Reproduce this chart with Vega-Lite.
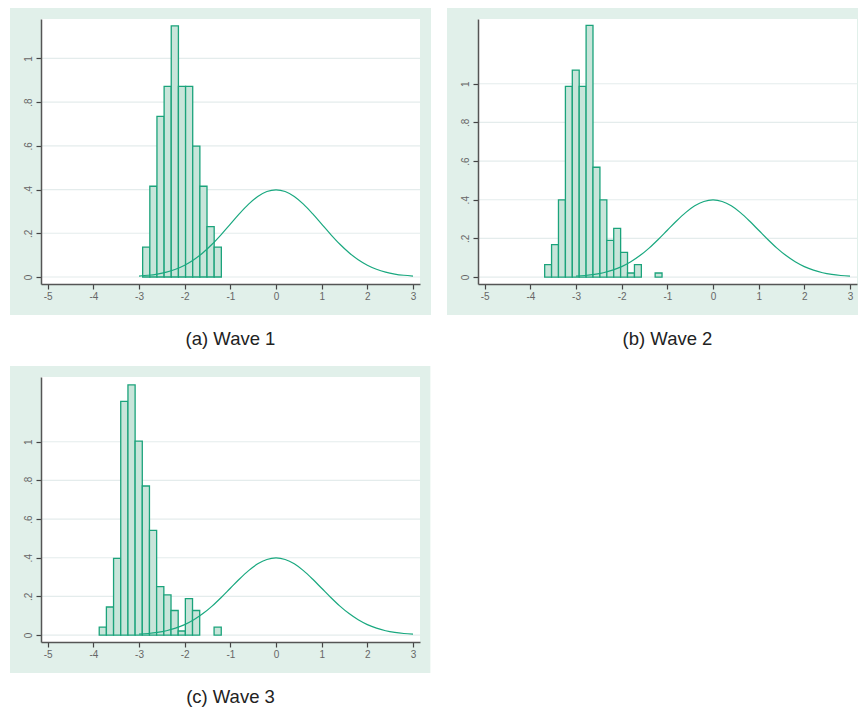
{
  "$schema": "https://vega.github.io/schema/vega-lite/v6.json",
  "padding": {"left": 9, "top": 8, "right": 0, "bottom": 0},
  "background": "white",
  "datasets": {
    "one": [{}],
    "grid": [{"g": 0}, {"g": 0.2}, {"g": 0.4}, {"g": 0.6}, {"g": 0.8}, {"g": 1}],
    "curve": [
      {"x": -3.0, "pdf": 0.00443}, {"x": -2.8, "pdf": 0.00792}, {"x": -2.6, "pdf": 0.01358}, {"x": -2.4, "pdf": 0.02239},
      {"x": -2.2, "pdf": 0.03547}, {"x": -2.0, "pdf": 0.05399}, {"x": -1.8, "pdf": 0.07895}, {"x": -1.6, "pdf": 0.11092},
      {"x": -1.4, "pdf": 0.14973}, {"x": -1.2, "pdf": 0.19419}, {"x": -1.0, "pdf": 0.24197}, {"x": -0.8, "pdf": 0.28969},
      {"x": -0.6, "pdf": 0.33322}, {"x": -0.4, "pdf": 0.36827}, {"x": -0.2, "pdf": 0.39104}, {"x": 0.0, "pdf": 0.39894},
      {"x": 0.2, "pdf": 0.39104}, {"x": 0.4, "pdf": 0.36827}, {"x": 0.6, "pdf": 0.33322}, {"x": 0.8, "pdf": 0.28969},
      {"x": 1.0, "pdf": 0.24197}, {"x": 1.2, "pdf": 0.19419}, {"x": 1.4, "pdf": 0.14973}, {"x": 1.6, "pdf": 0.11092},
      {"x": 1.8, "pdf": 0.07895}, {"x": 2.0, "pdf": 0.05399}, {"x": 2.2, "pdf": 0.03547}, {"x": 2.4, "pdf": 0.02239},
      {"x": 2.6, "pdf": 0.01358}, {"x": 2.8, "pdf": 0.00792}, {"x": 3.0, "pdf": 0.00443}
    ],
    "wave1": [
      {"x0": -2.920, "x1": -2.763, "density": 0.137},
      {"x0": -2.763, "x1": -2.607, "density": 0.415},
      {"x0": -2.607, "x1": -2.450, "density": 0.735},
      {"x0": -2.450, "x1": -2.294, "density": 0.872},
      {"x0": -2.294, "x1": -2.137, "density": 1.149},
      {"x0": -2.137, "x1": -1.980, "density": 0.872},
      {"x0": -1.980, "x1": -1.824, "density": 0.872},
      {"x0": -1.824, "x1": -1.667, "density": 0.599},
      {"x0": -1.667, "x1": -1.511, "density": 0.415},
      {"x0": -1.511, "x1": -1.354, "density": 0.230},
      {"x0": -1.354, "x1": -1.197, "density": 0.137}
    ],
    "wave2": [
      {"x0": -3.686, "x1": -3.535, "density": 0.064},
      {"x0": -3.535, "x1": -3.384, "density": 0.168},
      {"x0": -3.384, "x1": -3.232, "density": 0.399},
      {"x0": -3.232, "x1": -3.081, "density": 0.986},
      {"x0": -3.081, "x1": -2.930, "density": 1.071},
      {"x0": -2.930, "x1": -2.779, "density": 0.986},
      {"x0": -2.779, "x1": -2.628, "density": 1.302},
      {"x0": -2.628, "x1": -2.476, "density": 0.568},
      {"x0": -2.476, "x1": -2.325, "density": 0.399},
      {"x0": -2.325, "x1": -2.174, "density": 0.190},
      {"x0": -2.174, "x1": -2.023, "density": 0.252},
      {"x0": -2.023, "x1": -1.872, "density": 0.128},
      {"x0": -1.872, "x1": -1.720, "density": 0.021},
      {"x0": -1.720, "x1": -1.569, "density": 0.064},
      {"x0": -1.267, "x1": -1.116, "density": 0.021}
    ],
    "wave3": [
      {"x0": -3.871, "x1": -3.714, "density": 0.041},
      {"x0": -3.714, "x1": -3.557, "density": 0.145},
      {"x0": -3.557, "x1": -3.400, "density": 0.397},
      {"x0": -3.400, "x1": -3.242, "density": 1.209},
      {"x0": -3.242, "x1": -3.085, "density": 1.294},
      {"x0": -3.085, "x1": -2.928, "density": 1.003},
      {"x0": -2.928, "x1": -2.771, "density": 0.771},
      {"x0": -2.771, "x1": -2.614, "density": 0.542},
      {"x0": -2.614, "x1": -2.456, "density": 0.251},
      {"x0": -2.456, "x1": -2.299, "density": 0.208},
      {"x0": -2.299, "x1": -2.142, "density": 0.127},
      {"x0": -2.142, "x1": -1.985, "density": 0.021},
      {"x0": -1.985, "x1": -1.828, "density": 0.188},
      {"x0": -1.828, "x1": -1.671, "density": 0.127},
      {"x0": -1.356, "x1": -1.199, "density": 0.041}
    ]
  },
  "spacing": 17,
  "vconcat": [
    {
      "hconcat": [
        {
          "width": 379,
          "height": 265,
          "title": {"text": "(a) Wave 1", "orient": "bottom", "anchor": "middle", "offset": 15},
          "layer": [
            {
              "data": {"name": "one"},
              "mark": {"type": "rect", "fill": "#e1f0ea", "clip": false},
              "encoding": {
                "x": {"datum": -5.825, "type": "quantitative", "scale": {"domain": [-5.146, 3.153], "nice": false, "zero": false}, "axis": {"title": null, "zindex": 2, "values": [-5, -4, -3, -2, -1, 0, 1, 2, 3], "labelExpr": "'' + datum.value"}},
                "x2": {"datum": 3.394},
                "y": {"datum": -0.1737, "type": "quantitative", "scale": {"domain": [-0.032, 1.18], "nice": false, "zero": false}, "axis": {"title": null, "zindex": 2, "values": [0, 0.2, 0.4, 0.6, 0.8, 1], "labelExpr": "replace(format(datum.value, '.1~f'), '0.', '.')"}},
                "y2": {"datum": 1.2303}
              }
            },
            {"data": {"name": "one"}, "mark": {"type": "rect", "fill": "white"}, "encoding": {}},
            {"data": {"name": "grid"}, "mark": {"type": "rule", "color": "#e4ecec", "strokeWidth": 1.2}, "encoding": {"y": {"field": "g", "type": "quantitative", "title": null}}},
            {
              "data": {"name": "wave1"},
              "mark": {"type": "bar", "fill": "#c8e5da", "stroke": "#1ba37b", "strokeWidth": 1.3},
              "encoding": {
                "x": {"field": "x0", "type": "quantitative", "title": null},
                "x2": {"field": "x1"},
                "y": {"field": "density", "type": "quantitative", "title": null},
                "y2": {"datum": 0}
              }
            },
            {
              "data": {"name": "curve"},
              "mark": {"type": "line", "color": "#19a87f", "strokeWidth": 1.2, "interpolate": "monotone"},
              "encoding": {
                "x": {"field": "x", "type": "quantitative", "title": null},
                "y": {"field": "pdf", "type": "quantitative", "title": null}
              }
            }
          ]
        },
        {
          "width": 379,
          "height": 265,
          "title": {"text": "(b) Wave 2", "orient": "bottom", "anchor": "middle", "offset": 15},
          "layer": [
            {
              "data": {"name": "one"},
              "mark": {"type": "rect", "fill": "#e1f0ea", "clip": false},
              "encoding": {
                "x": {"datum": -5.825, "type": "quantitative", "scale": {"domain": [-5.146, 3.153], "nice": false, "zero": false}, "axis": {"title": null, "zindex": 2, "values": [-5, -4, -3, -2, -1, 0, 1, 2, 3], "labelExpr": "'' + datum.value"}},
                "x2": {"datum": 3.175},
                "y": {"datum": -0.1964, "type": "quantitative", "scale": {"domain": [-0.036, 1.335], "nice": false, "zero": false}, "axis": {"title": null, "zindex": 2, "values": [0, 0.2, 0.4, 0.6, 0.8, 1], "labelExpr": "replace(format(datum.value, '.1~f'), '0.', '.')"}},
                "y2": {"datum": 1.3919}
              }
            },
            {"data": {"name": "one"}, "mark": {"type": "rect", "fill": "white"}, "encoding": {}},
            {"data": {"name": "grid"}, "mark": {"type": "rule", "color": "#e4ecec", "strokeWidth": 1.2}, "encoding": {"y": {"field": "g", "type": "quantitative", "title": null}}},
            {
              "data": {"name": "wave2"},
              "mark": {"type": "bar", "fill": "#c8e5da", "stroke": "#1ba37b", "strokeWidth": 1.3},
              "encoding": {
                "x": {"field": "x0", "type": "quantitative", "title": null},
                "x2": {"field": "x1"},
                "y": {"field": "density", "type": "quantitative", "title": null},
                "y2": {"datum": 0}
              }
            },
            {
              "data": {"name": "curve"},
              "mark": {"type": "line", "color": "#19a87f", "strokeWidth": 1.2, "interpolate": "monotone"},
              "encoding": {
                "x": {"field": "x", "type": "quantitative", "title": null},
                "y": {"field": "pdf", "type": "quantitative", "title": null}
              }
            }
          ]
        }
      ],
      "spacing": 14
    },
    {
      "width": 379,
      "height": 265,
      "title": {"text": "(c) Wave 3", "orient": "bottom", "anchor": "middle", "offset": 15},
      "layer": [
        {
          "data": {"name": "one"},
          "mark": {"type": "rect", "fill": "#e1f0ea", "clip": false},
          "encoding": {
            "x": {"datum": -5.825, "type": "quantitative", "scale": {"domain": [-5.146, 3.153], "nice": false, "zero": false}, "axis": {"title": null, "zindex": 2, "values": [-5, -4, -3, -2, -1, 0, 1, 2, 3], "labelExpr": "'' + datum.value"}},
            "x2": {"datum": 3.38},
            "y": {"datum": -0.1964, "type": "quantitative", "scale": {"domain": [-0.036, 1.335], "nice": false, "zero": false}, "axis": {"title": null, "zindex": 2, "values": [0, 0.2, 0.4, 0.6, 0.8, 1], "labelExpr": "replace(format(datum.value, '.1~f'), '0.', '.')"}},
            "y2": {"datum": 1.3919}
          }
        },
        {"data": {"name": "one"}, "mark": {"type": "rect", "fill": "white"}, "encoding": {}},
        {"data": {"name": "grid"}, "mark": {"type": "rule", "color": "#e4ecec", "strokeWidth": 1.2}, "encoding": {"y": {"field": "g", "type": "quantitative", "title": null}}},
        {
          "data": {"name": "wave3"},
          "mark": {"type": "bar", "fill": "#c8e5da", "stroke": "#1ba37b", "strokeWidth": 1.3},
          "encoding": {
            "x": {"field": "x0", "type": "quantitative", "title": null},
            "x2": {"field": "x1"},
            "y": {"field": "density", "type": "quantitative", "title": null},
            "y2": {"datum": 0}
          }
        },
        {
          "data": {"name": "curve"},
          "mark": {"type": "line", "color": "#19a87f", "strokeWidth": 1.2, "interpolate": "monotone"},
          "encoding": {
            "x": {"field": "x", "type": "quantitative", "title": null},
            "y": {"field": "pdf", "type": "quantitative", "title": null}
          }
        }
      ]
    }
  ],
  "config": {
    "view": {"stroke": null},
    "title": {"font": "Liberation Sans", "fontSize": 18.5, "fontWeight": "normal", "color": "#222222"},
    "axis": {
      "grid": false,
      "zindex": 2,
      "domainColor": "#555555",
      "domainWidth": 1.5,
      "tickColor": "#444444",
      "tickWidth": 1.2,
      "tickSize": 5,
      "labelFont": "Liberation Sans",
      "labelFontSize": 10,
      "labelColor": "#666666",
      "labelFlush": false,
      "labelOverlap": false
    },
    "axisX": {"labelPadding": 2},
    "axisY": {"labelAngle": 270, "labelAlign": "center", "labelBaseline": "bottom", "labelPadding": 3}
  }
}
